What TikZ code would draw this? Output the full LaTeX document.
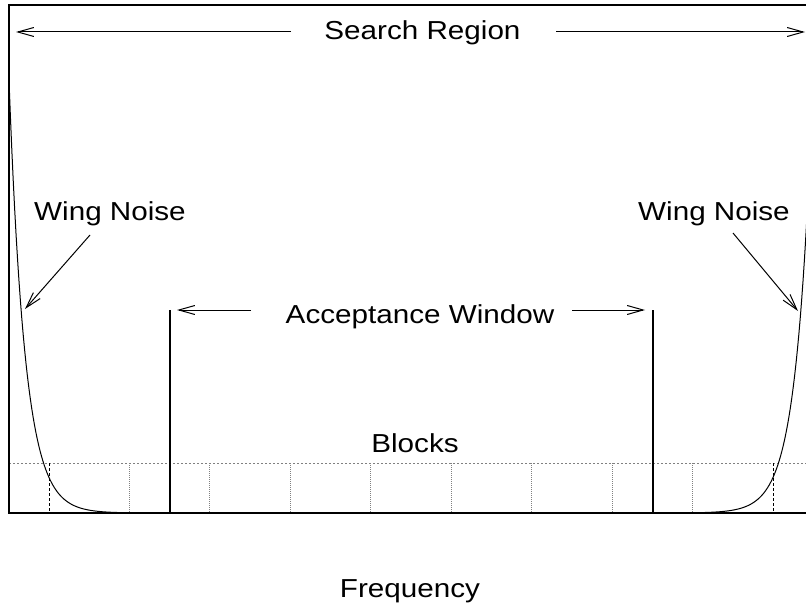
\documentclass[tikz,border=0pt]{standalone}
\usepackage{fontspec}
\setmainfont{Liberation Sans}
\usetikzlibrary{arrows.meta}
\newcommand{\widetext}[1]{\scalebox{1.14}[1]{#1}}

\begin{document}
\begin{tikzpicture}[x=1pt,y=-1pt,
	lbl/.style={font=\fontsize{26}{31}\selectfont,anchor=base,inner sep=0pt},
	fine/.style={line width=1pt},
	frame/.style={line width=2pt},
	gridline/.style={line width=1pt,gray,dash pattern=on 2pt off 2pt},
	blockline/.style={line width=0.8pt,gray,dash pattern=on 1pt off 1pt},
	edgeline/.style={line width=1pt,dash pattern=on 3pt off 2pt},
	>={Straight Barb[length=16pt,width=9pt]}]
	\useasboundingbox (0,0) rectangle (806,607);
	% corners of the search region
	\coordinate (tl) at (9,32);
	\coordinate (tr) at (813,32);
	\coordinate (al) at (170,310);
	\coordinate (ar) at (653,310);
	% blocks
	\draw[gridline] (9,463) -- (813,463);
	\foreach \i in {1,...,8}
		\draw[blockline] ({49+80.44*\i},463) -- ({49+80.44*\i},513);
	\foreach \x in {49,773}
		\draw[edgeline] (\x,463) -- (\x,513);
	% wing noise
	\draw[fine] plot[domain=9:135,samples=90] (\x,{513-433*exp(-(\x-9)/16)});
	\draw[fine] plot[domain=687:813,samples=90] (\x,{513-433*exp(-(813-\x)/16)});
	% frame and window
	\draw[frame] (813,5) -- (9,5) -- (9,513) -- (813,513);
	\draw[frame] (al) -- (170,513);
	\draw[frame] (ar) -- (653,513);
	% labels
	\node[lbl] (search) at (422.5,39.5) {\widetext{Search Region}};
	\node[lbl] (accept) at (420,323) {\widetext{Acceptance Window}};
	\node[lbl] (blocks) at (415,452) {\widetext{Blocks}};
	\node[lbl] (wingl) at (110,220) {\widetext{Wing Noise}};
	\node[lbl] (wingr) at (714,220) {\widetext{Wing Noise}};
	\node[lbl] (freq) at (410,597) {\widetext{Frequency}};
	% arrows
	\coordinate (s0) at (291,32);
	\coordinate (s1) at (556,32);
	\coordinate (a0) at (251,310);
	\coordinate (a1) at (572,310);
	\coordinate (w0) at (90,235);
	\coordinate (w1) at (25,309);
	\coordinate (w2) at (733,233);
	\coordinate (w3) at (798,311);
	\draw[fine,->,shorten >=7pt] (s0) to (tl);
	\draw[fine,->,shorten >=8pt] (s1) to (tr);
	\draw[fine,->,shorten >=7pt] (a0) to (al);
	\draw[fine,->,shorten >=8pt] (a1) to (ar);
	\draw[fine,->] (w0) to (w1);
	\draw[fine,->] (w2) to (w3);
\end{tikzpicture}
\end{document}
